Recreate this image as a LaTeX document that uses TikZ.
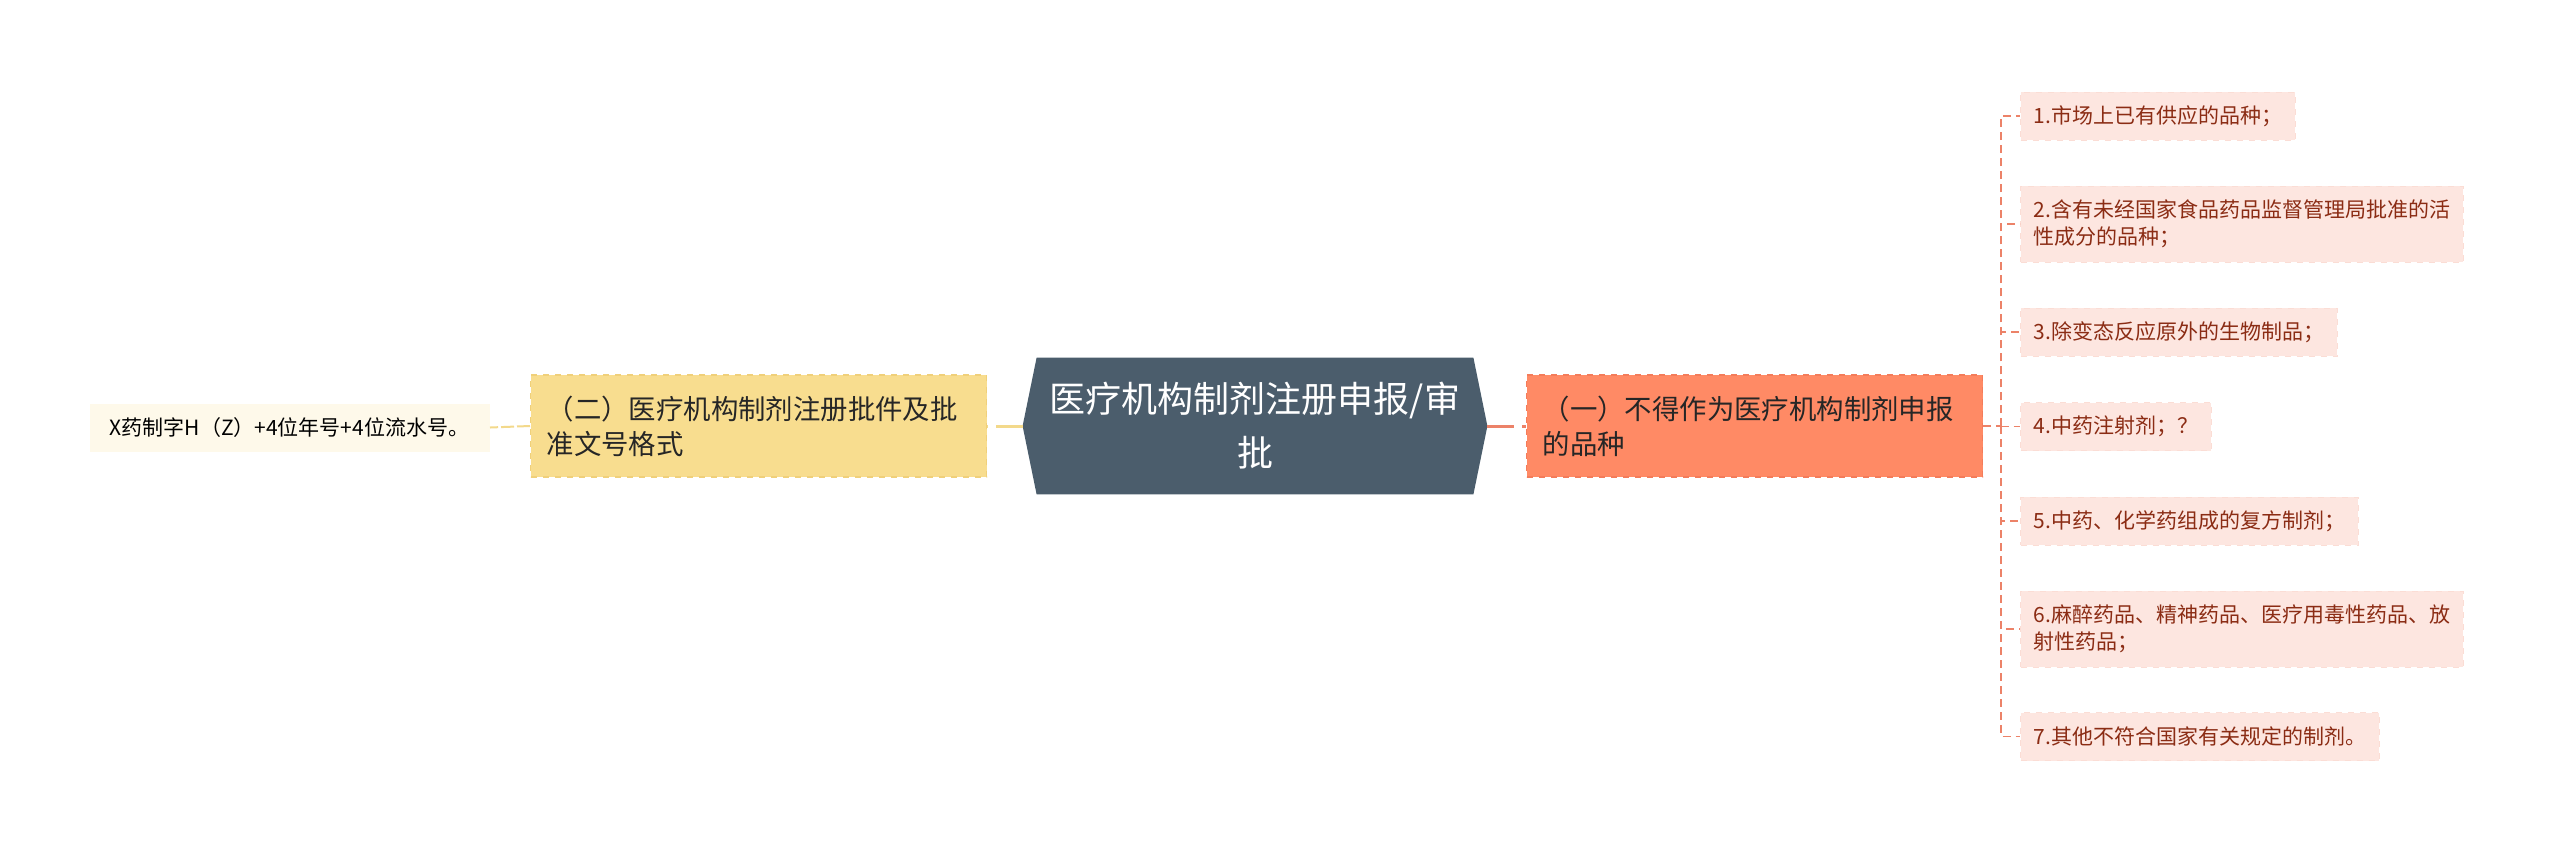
\documentclass[tikz,border=0pt]{standalone}
\usepackage{fontspec}
\setmainfont{Noto Sans CJK SC}
\usetikzlibrary{backgrounds}

\definecolor{hexfill}{HTML}{4B5D6C}
\definecolor{onefill}{HTML}{FF8A65}
\definecolor{oneline}{HTML}{F47C5A}
\definecolor{twofill}{HTML}{F8DD8F}
\definecolor{twoline}{HTML}{F0D07A}
\definecolor{fmtfill}{HTML}{FEF9EA}
\definecolor{leaffill}{HTML}{FDE6E0}
\definecolor{leafline}{HTML}{FBDDD5}
\definecolor{leaftext}{HTML}{8B2C14}
\definecolor{midtext}{HTML}{262626}
\definecolor{redlink}{HTML}{EC8268}
\definecolor{yellink}{HTML}{F3D98B}

\tikzset{
  centerbox/.style={minimum width=232pt, minimum height=68pt, inner sep=0pt, align=center,
    text=white, font=\fontsize{18}{27}\selectfont},
  midbox/.style={anchor=west, text width=212pt, inner xsep=8pt, inner ysep=0pt, minimum height=51pt,
    align=left, text=midtext, font=\fontsize{13.7}{17.5}\selectfont, dashed, line width=0.6pt},
  leafbox/.style={anchor=west, inner xsep=6.5pt, inner ysep=0pt, minimum height=24pt, align=left,
    text=leaftext, fill=leaffill, draw=leafline, dashed, line width=0.5pt,
    font=\fontsize{10.5}{13.5}\selectfont},
  thicklink/.style={line width=1.5pt, dash pattern=on 13.5pt off 4pt},
  thinlink/.style={line width=0.8pt, dash pattern=on 4pt off 2.5pt},
}

\begin{document}
\begin{tikzpicture}[x=0.5pt, y=-0.5pt]
  \useasboundingbox (0,0) rectangle (2560,853);

  % centre
  \node [centerbox] (center) at (1255,426) {医疗机构制剂注册申报/审\\批};
  \begin{scope}[on background layer]
    \fill [hexfill] ([xshift=7pt]center.north west) -- ([xshift=-7pt]center.north east) -- (center.east)
      -- ([xshift=-7pt]center.south east) -- ([xshift=7pt]center.south west) -- (center.west) -- cycle;
  \end{scope}

  % two branches
  \node [midbox, fill=onefill, draw=oneline] (one) at (1526,426) {（一）不得作为医疗机构制剂申报\\的品种};
  \node [midbox, fill=twofill, draw=twoline] (two) at (530,426) {（二）医疗机构制剂注册批件及批\\准文号格式};
  \draw [redlink, thicklink] (center.east) -- (one.west);
  \draw [yellink, thicklink] (center.west) -- (two.east);

  % left leaf
  \node [leafbox, anchor=east, minimum width=200pt, fill=fmtfill, draw=none, text=black] (fmt) at (490,427.5)
    {X药制字H（Z）+4位年号+4位流水号。};
  \draw [yellink, line width=1pt, dash pattern=on 6.5pt off 1.5pt] (two.west) -- (fmt.east);

  % right leaves
  \node [leafbox] (v1) at (2020,116) {1.市场上已有供应的品种；};
  \node [leafbox, minimum height=38pt] (v2) at (2020,224) {2.含有未经国家食品药品监督管理局批准的活\\性成分的品种；};
  \node [leafbox] (v3) at (2020,332) {3.除变态反应原外的生物制品；};
  \node [leafbox] (v4) at (2020,426.5) {4.中药注射剂；？};
  \node [leafbox] (v5) at (2020,521) {5.中药、化学药组成的复方制剂；};
  \node [leafbox, minimum height=38pt] (v6) at (2020,629) {6.麻醉药品、精神药品、医疗用毒性药品、放\\射性药品；};
  \node [leafbox] (v7) at (2020,736.5) {7.其他不符合国家有关规定的制剂。};

  \coordinate (hub) at (2001,426);
  \draw [redlink, thinlink] (one.east) -- (hub);
  \foreach \n in {v1,v2,v3,v4,v5,v6,v7}
    \draw [redlink, thinlink] (hub) |- (\n.west);
\end{tikzpicture}
\end{document}
